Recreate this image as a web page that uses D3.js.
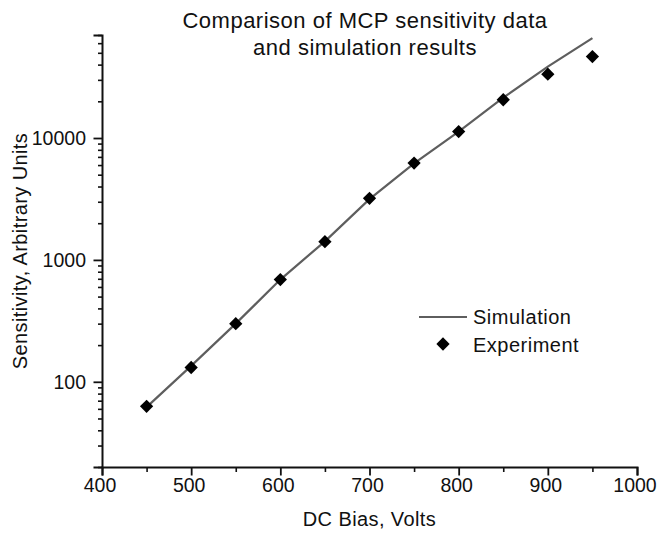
<!DOCTYPE html>
<html>
<head>
<meta charset="utf-8">
<script src="https://cdn.jsdelivr.net/npm/d3@7"></script>
<style>
  html, body { margin: 0; padding: 0; background: #fff; overflow: hidden; }
  svg { display: block; }
  text { font-family: "Liberation Sans", Arial, sans-serif; fill: #111; }
</style>
</head>
<body>
<svg id="chart" width="660" height="537"></svg>
<script>
// measured points
const expVolts = [450, 500, 550, 600, 650, 700, 750, 800, 850, 900, 950];
const experiment = [63, 131, 300, 690, 1410, 3200, 6230, 11300, 20600, 33400, 46600];

const simVolts = [450, 500, 550, 600, 650, 700, 750, 800, 850, 900, 950];
const simulation = [62, 135, 300, 690, 1420, 3150, 6200, 11300, 21400, 38500, 66000];

const xTicks = [400, 500, 600, 700, 800, 900, 1000];
const xMinorTicks = [450, 550, 650, 750, 850, 950];
const yTicks = [100, 1000, 10000];
const yMinorTicks = [20, 30, 40, 50, 60, 70, 80, 90,
    200, 300, 400, 500, 600, 700, 800, 900,
    2000, 3000, 4000, 5000, 6000, 7000, 8000, 9000,
    20000, 30000, 40000, 50000, 60000, 70000];

const titleLines = ["Comparison of MCP sensitivity data", "and simulation results"];
const seriesNames = ["Simulation", "Experiment"];

const svg = d3.select("#chart");
const width = +svg.attr("width");
const height = +svg.attr("height");

const margin = { top: 35, right: 23, bottom: 70, left: 102 };
const innerWidth = width - margin.left - margin.right;
const innerHeight = height - margin.top - margin.bottom;

const x = d3.scaleLinear().domain([400, 1000]).range([margin.left, margin.left + innerWidth]);
const y = d3.scaleLog().domain([20, 70000]).range([margin.top + innerHeight, margin.top]);

const tickFont = 19.5;
const labelFont = 20;

// y axis ticks (minor then major)
svg.append("g")
    .attr("transform", `translate(${margin.left},0)`)
    .call(d3.axisLeft(y).tickValues(yMinorTicks).tickSize(4).tickFormat(""))
    .call(a => a.select(".domain").remove())
    .selectAll("line").attr("stroke", "#111").attr("stroke-width", 1.6);

const yAxis = svg.append("g")
    .attr("transform", `translate(${margin.left},0)`)
    .call(d3.axisLeft(y).tickValues(yTicks).tickSize(8.5).tickFormat(""));
yAxis.select(".domain").attr("stroke", "#111").attr("stroke-width", 2);
yAxis.selectAll("line").attr("stroke", "#111").attr("stroke-width", 1.8);

// x axis ticks
svg.append("g")
    .attr("transform", `translate(0,${margin.top + innerHeight})`)
    .call(d3.axisBottom(x).tickValues(xMinorTicks).tickSize(5).tickFormat(""))
    .call(a => a.select(".domain").remove())
    .selectAll("line").attr("stroke", "#111").attr("stroke-width", 1.6);

const xAxis = svg.append("g")
    .attr("transform", `translate(0,${margin.top + innerHeight})`)
    .call(d3.axisBottom(x).tickValues(xTicks).tickSize(8.5).tickFormat(""));
xAxis.select(".domain").attr("stroke", "#111").attr("stroke-width", 2);
xAxis.selectAll("line").attr("stroke", "#111").attr("stroke-width", 1.8);

// tick labels
svg.append("g")
    .selectAll("text")
    .data(xTicks)
    .enter()
    .append("text")
    .attr("x", d => x(d) - 2)
    .attr("y", margin.top + innerHeight + 25)
    .attr("text-anchor", "middle")
    .attr("font-size", tickFont)
    .text(d => d);

svg.append("g")
    .selectAll("text")
    .data(yTicks)
    .enter()
    .append("text")
    .attr("x", margin.left - 16)
    .attr("y", d => y(d) + 7)
    .attr("text-anchor", "end")
    .attr("font-size", tickFont)
    .text(d => d);

// simulation line
const line = d3.line()
    .x((d, i) => x(simVolts[i]))
    .y(d => y(d));

svg.append("path")
    .datum(simulation)
    .attr("fill", "none")
    .attr("stroke", "#5e5e5e")
    .attr("stroke-width", 2.2)
    .attr("d", line);

// experiment diamonds
const diamond = d3.symbol().type(d3.symbolSquare).size(88);

svg.selectAll(".exp")
    .data(experiment)
    .enter()
    .append("path")
    .attr("class", "exp")
    .attr("d", diamond)
    .attr("fill", "#000")
    .attr("transform", (d, i) => `translate(${x(expVolts[i])},${y(d)}) rotate(45)`);

// title
svg.append("g")
    .selectAll("text")
    .data(titleLines)
    .enter()
    .append("text")
    .attr("x", 365)
    .attr("y", (d, i) => 28 + i * 27)
    .attr("text-anchor", "middle")
    .attr("font-size", 22)
    .attr("letter-spacing", 0.5)
    .text(d => d);

// axis labels
svg.append("text")
    .attr("x", margin.left + innerWidth / 2)
    .attr("y", 526)
    .attr("text-anchor", "middle")
    .attr("font-size", labelFont)
    .attr("letter-spacing", 0.4)
    .text("DC Bias, Volts");

svg.append("text")
    .attr("transform", `translate(27,${margin.top + innerHeight / 2}) rotate(-90)`)
    .attr("text-anchor", "middle")
    .attr("font-size", labelFont)
    .attr("letter-spacing", 0.4)
    .text("Sensitivity, Arbitrary Units");

// legend
const legend = svg.append("g").attr("transform", "translate(419,317)");

legend.append("line")
    .attr("x1", 0).attr("x2", 48)
    .attr("y1", 0).attr("y2", 0)
    .attr("stroke", "#5e5e5e")
    .attr("stroke-width", 2.2);

legend.append("path")
    .attr("d", diamond)
    .attr("fill", "#000")
    .attr("transform", "translate(24,27) rotate(45)");

legend.selectAll(".leg-text")
    .data(seriesNames)
    .enter()
    .append("text")
    .attr("class", "leg-text")
    .attr("x", 54)
    .attr("y", (d, i) => 7 + i * 28)
    .attr("font-size", labelFont)
    .attr("letter-spacing", 0.5)
    .text(d => d);
</script>
</body>
</html>
